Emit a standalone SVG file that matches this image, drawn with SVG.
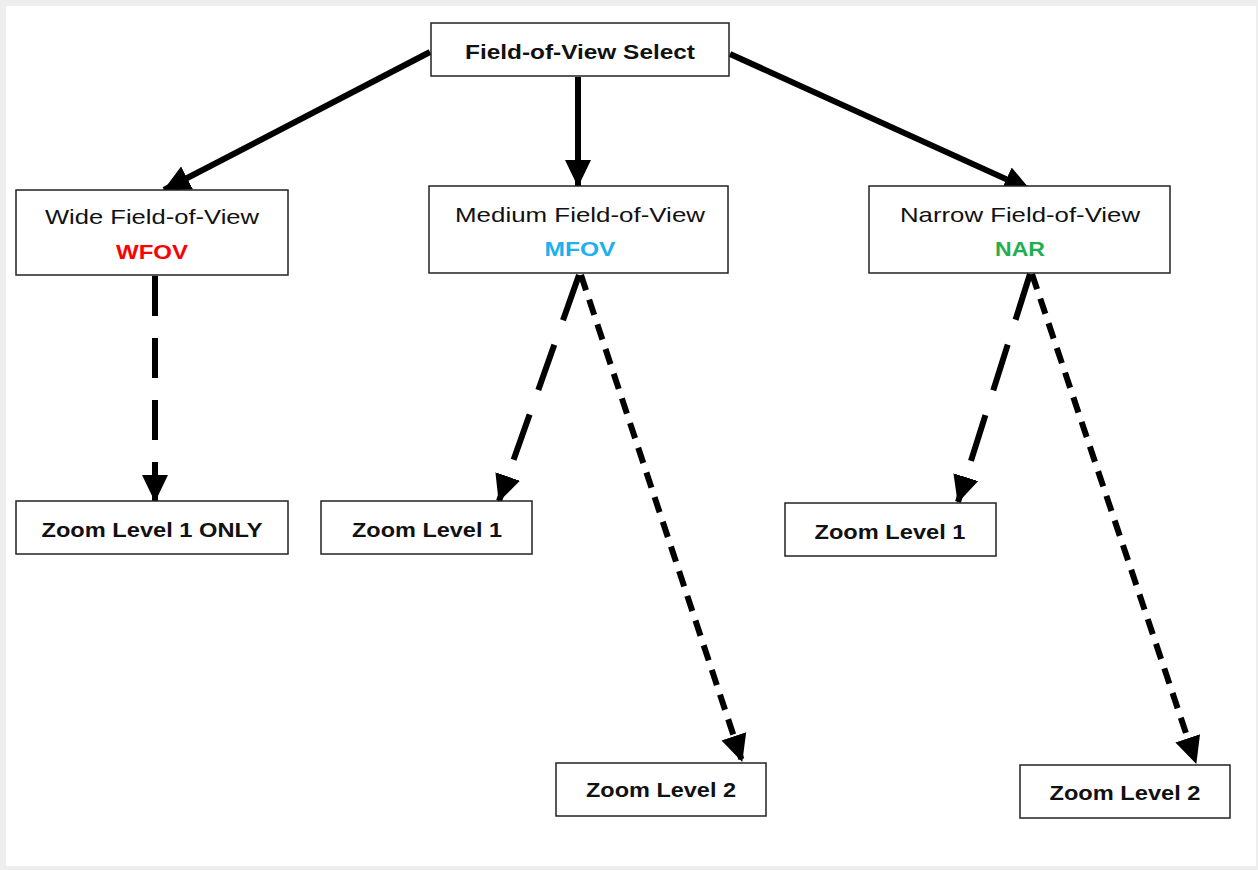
<svg xmlns="http://www.w3.org/2000/svg" width="1258" height="870" viewBox="0 0 1258 870">
<style>
.box{fill:#fff;stroke:#222;stroke-width:1.5}
.t{font-family:"Liberation Sans",Arial,sans-serif;font-size:21px;fill:#111;text-anchor:middle}
.b{font-weight:bold}
.c{fill:none;stroke:#000;stroke-width:6}
</style>
<defs>
<marker id="ah" markerUnits="userSpaceOnUse" markerWidth="28" markerHeight="28" viewBox="0 0 28 28" refX="26" refY="14" orient="auto">
<path d="M0,1 L27,14 L0,27 Z" fill="#000"/>
</marker>
</defs>
<rect x="0" y="0" width="1258" height="870" fill="#eeeeee"/>
<rect x="6" y="6" width="1250" height="860" fill="#ffffff"/>
<g id="connectors">
<line class="c" x1="430" y1="52" x2="164" y2="190" marker-end="url(#ah)"/>
<line class="c" x1="578" y1="77" x2="578" y2="186" marker-end="url(#ah)"/>
<line class="c" x1="730" y1="54" x2="1030" y2="190" marker-end="url(#ah)"/>
<line class="c" x1="155" y1="276" x2="155" y2="501" stroke-dasharray="40 22" marker-end="url(#ah)"/>
<line class="c" x1="579" y1="275" x2="499" y2="501" stroke-dasharray="48 26" marker-end="url(#ah)"/>
<line class="c" x1="581" y1="275" x2="742" y2="761" stroke-dasharray="16 10" marker-end="url(#ah)"/>
<line class="c" x1="1030" y1="274" x2="958" y2="502" stroke-dasharray="48 26" marker-end="url(#ah)"/>
<line class="c" x1="1032" y1="274" x2="1196" y2="763" stroke-dasharray="16 10" marker-end="url(#ah)"/>
</g>
<g id="fov-select">
<rect class="box" x="431" y="23" width="298" height="53"/>
<text class="t b" x="580" y="59" textLength="230" lengthAdjust="spacingAndGlyphs">Field-of-View Select</text>
</g>
<g id="wfov">
<rect class="box" x="16" y="190" width="272" height="85"/>
<text class="t" x="152" y="224" textLength="214" lengthAdjust="spacingAndGlyphs">Wide Field-of-View</text>
<text class="t b" x="152" y="259" style="fill:#ff0000" textLength="72" lengthAdjust="spacingAndGlyphs">WFOV</text>
</g>
<g id="mfov">
<rect class="box" x="429" y="186" width="299" height="87"/>
<text class="t" x="580" y="222" textLength="250" lengthAdjust="spacingAndGlyphs">Medium Field-of-View</text>
<text class="t b" x="580" y="256" style="fill:#1fb0ef" textLength="71" lengthAdjust="spacingAndGlyphs">MFOV</text>
</g>
<g id="nar">
<rect class="box" x="869" y="186" width="301" height="87"/>
<text class="t" x="1020" y="222" textLength="240" lengthAdjust="spacingAndGlyphs">Narrow Field-of-View</text>
<text class="t b" x="1020" y="256" style="fill:#1faf50" textLength="50" lengthAdjust="spacingAndGlyphs">NAR</text>
</g>
<g id="wfov-zoom1">
<rect class="box" x="16" y="501" width="272" height="53"/>
<text class="t b" x="152" y="537" textLength="221" lengthAdjust="spacingAndGlyphs">Zoom Level 1 ONLY</text>
</g>
<g id="mfov-zoom1">
<rect class="box" x="321" y="501" width="211" height="53"/>
<text class="t b" x="427" y="537" textLength="150" lengthAdjust="spacingAndGlyphs">Zoom Level 1</text>
</g>
<g id="mfov-zoom2">
<rect class="box" x="556" y="763" width="210" height="53"/>
<text class="t b" x="661" y="797" textLength="150" lengthAdjust="spacingAndGlyphs">Zoom Level 2</text>
</g>
<g id="nar-zoom1">
<rect class="box" x="785" y="503" width="211" height="53"/>
<text class="t b" x="890" y="539" textLength="151" lengthAdjust="spacingAndGlyphs">Zoom Level 1</text>
</g>
<g id="nar-zoom2">
<rect class="box" x="1020" y="765" width="210" height="53"/>
<text class="t b" x="1125" y="800" textLength="151" lengthAdjust="spacingAndGlyphs">Zoom Level 2</text>
</g>
</svg>
